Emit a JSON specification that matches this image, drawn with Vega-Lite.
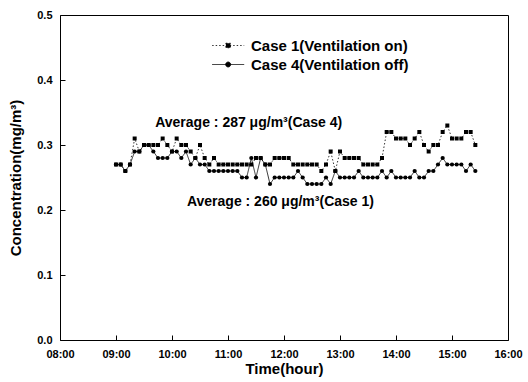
{
  "$schema": "https://vega.github.io/schema/vega-lite/v6.json",
  "width": 448,
  "height": 325,
  "autosize": {"type": "none"},
  "padding": {"left": 60, "top": 15, "right": 20, "bottom": 42},
  "background": "white",
  "config": {
    "view": {"stroke": "black", "strokeWidth": 1},
    "font": "Liberation Sans",
    "axis": {
      "domain": false, "tickColor": "black", "tickOpacity": 1, "labelColor": "black", "titleColor": "black",
      "labelFont": "Liberation Sans", "labelFontWeight": "bold", "labelFontSize": 11,
      "titleFont": "Liberation Sans", "titleFontWeight": "bold", "titleFontSize": 15,
      "grid": false, "tickWidth": 1, "ticks": true, "zindex": 2
    }
  },
  "layer": [
    {
      "data": {
        "format": {"parse": {"t": "date:'%H:%M'"}},
        "values": [
          {"t":"09:00","s":"Case 1","v":0.27},{"t":"09:05","s":"Case 1","v":0.27},{"t":"09:10","s":"Case 1","v":0.26},{"t":"09:15","s":"Case 1","v":0.27},{"t":"09:20","s":"Case 1","v":0.31},{"t":"09:25","s":"Case 1","v":0.29},{"t":"09:30","s":"Case 1","v":0.30},{"t":"09:35","s":"Case 1","v":0.30},{"t":"09:40","s":"Case 1","v":0.30},{"t":"09:45","s":"Case 1","v":0.30},{"t":"09:50","s":"Case 1","v":0.31},{"t":"09:55","s":"Case 1","v":0.30},
          {"t":"10:00","s":"Case 1","v":0.29},{"t":"10:05","s":"Case 1","v":0.31},{"t":"10:10","s":"Case 1","v":0.30},{"t":"10:15","s":"Case 1","v":0.30},{"t":"10:20","s":"Case 1","v":0.29},{"t":"10:25","s":"Case 1","v":0.28},{"t":"10:30","s":"Case 1","v":0.30},{"t":"10:35","s":"Case 1","v":0.28},{"t":"10:40","s":"Case 1","v":0.27},{"t":"10:45","s":"Case 1","v":0.28},{"t":"10:50","s":"Case 1","v":0.27},{"t":"10:55","s":"Case 1","v":0.27},
          {"t":"11:00","s":"Case 1","v":0.27},{"t":"11:05","s":"Case 1","v":0.27},{"t":"11:10","s":"Case 1","v":0.27},{"t":"11:15","s":"Case 1","v":0.27},{"t":"11:20","s":"Case 1","v":0.27},{"t":"11:25","s":"Case 1","v":0.27},{"t":"11:30","s":"Case 1","v":0.28},{"t":"11:35","s":"Case 1","v":0.28},{"t":"11:40","s":"Case 1","v":0.27},{"t":"11:45","s":"Case 1","v":0.27},{"t":"11:50","s":"Case 1","v":0.28},{"t":"11:55","s":"Case 1","v":0.28},
          {"t":"12:00","s":"Case 1","v":0.28},{"t":"12:05","s":"Case 1","v":0.28},{"t":"12:10","s":"Case 1","v":0.27},{"t":"12:15","s":"Case 1","v":0.27},{"t":"12:20","s":"Case 1","v":0.27},{"t":"12:25","s":"Case 1","v":0.27},{"t":"12:30","s":"Case 1","v":0.27},{"t":"12:35","s":"Case 1","v":0.27},{"t":"12:40","s":"Case 1","v":0.26},{"t":"12:45","s":"Case 1","v":0.27},{"t":"12:50","s":"Case 1","v":0.29},{"t":"12:55","s":"Case 1","v":0.26},
          {"t":"13:00","s":"Case 1","v":0.29},{"t":"13:05","s":"Case 1","v":0.28},{"t":"13:10","s":"Case 1","v":0.28},{"t":"13:15","s":"Case 1","v":0.28},{"t":"13:20","s":"Case 1","v":0.28},{"t":"13:25","s":"Case 1","v":0.27},{"t":"13:30","s":"Case 1","v":0.27},{"t":"13:35","s":"Case 1","v":0.27},{"t":"13:40","s":"Case 1","v":0.27},{"t":"13:45","s":"Case 1","v":0.28},{"t":"13:50","s":"Case 1","v":0.32},{"t":"13:55","s":"Case 1","v":0.32},
          {"t":"14:00","s":"Case 1","v":0.31},{"t":"14:05","s":"Case 1","v":0.31},{"t":"14:10","s":"Case 1","v":0.31},{"t":"14:15","s":"Case 1","v":0.30},{"t":"14:20","s":"Case 1","v":0.31},{"t":"14:25","s":"Case 1","v":0.32},{"t":"14:30","s":"Case 1","v":0.30},{"t":"14:35","s":"Case 1","v":0.29},{"t":"14:40","s":"Case 1","v":0.30},{"t":"14:45","s":"Case 1","v":0.30},{"t":"14:50","s":"Case 1","v":0.32},{"t":"14:55","s":"Case 1","v":0.33},
          {"t":"15:00","s":"Case 1","v":0.31},{"t":"15:05","s":"Case 1","v":0.31},{"t":"15:10","s":"Case 1","v":0.31},{"t":"15:15","s":"Case 1","v":0.32},{"t":"15:20","s":"Case 1","v":0.32},{"t":"15:25","s":"Case 1","v":0.30},
          {"t":"09:00","s":"Case 4","v":0.27},{"t":"09:05","s":"Case 4","v":0.27},{"t":"09:10","s":"Case 4","v":0.26},{"t":"09:15","s":"Case 4","v":0.27},{"t":"09:20","s":"Case 4","v":0.29},{"t":"09:25","s":"Case 4","v":0.29},{"t":"09:30","s":"Case 4","v":0.30},{"t":"09:35","s":"Case 4","v":0.30},{"t":"09:40","s":"Case 4","v":0.29},{"t":"09:45","s":"Case 4","v":0.28},{"t":"09:50","s":"Case 4","v":0.28},{"t":"09:55","s":"Case 4","v":0.28},
          {"t":"10:00","s":"Case 4","v":0.29},{"t":"10:05","s":"Case 4","v":0.29},{"t":"10:10","s":"Case 4","v":0.28},{"t":"10:15","s":"Case 4","v":0.29},{"t":"10:20","s":"Case 4","v":0.27},{"t":"10:25","s":"Case 4","v":0.28},{"t":"10:30","s":"Case 4","v":0.27},{"t":"10:35","s":"Case 4","v":0.27},{"t":"10:40","s":"Case 4","v":0.26},{"t":"10:45","s":"Case 4","v":0.26},{"t":"10:50","s":"Case 4","v":0.26},{"t":"10:55","s":"Case 4","v":0.26},
          {"t":"11:00","s":"Case 4","v":0.26},{"t":"11:05","s":"Case 4","v":0.26},{"t":"11:10","s":"Case 4","v":0.26},{"t":"11:15","s":"Case 4","v":0.25},{"t":"11:20","s":"Case 4","v":0.25},{"t":"11:25","s":"Case 4","v":0.28},{"t":"11:30","s":"Case 4","v":0.25},{"t":"11:35","s":"Case 4","v":0.28},{"t":"11:40","s":"Case 4","v":0.27},{"t":"11:45","s":"Case 4","v":0.24},{"t":"11:50","s":"Case 4","v":0.25},{"t":"11:55","s":"Case 4","v":0.25},
          {"t":"12:00","s":"Case 4","v":0.25},{"t":"12:05","s":"Case 4","v":0.25},{"t":"12:10","s":"Case 4","v":0.25},{"t":"12:15","s":"Case 4","v":0.26},{"t":"12:20","s":"Case 4","v":0.25},{"t":"12:25","s":"Case 4","v":0.24},{"t":"12:30","s":"Case 4","v":0.24},{"t":"12:35","s":"Case 4","v":0.24},{"t":"12:40","s":"Case 4","v":0.24},{"t":"12:45","s":"Case 4","v":0.25},{"t":"12:50","s":"Case 4","v":0.24},{"t":"12:55","s":"Case 4","v":0.26},
          {"t":"13:00","s":"Case 4","v":0.25},{"t":"13:05","s":"Case 4","v":0.25},{"t":"13:10","s":"Case 4","v":0.25},{"t":"13:15","s":"Case 4","v":0.25},{"t":"13:20","s":"Case 4","v":0.26},{"t":"13:25","s":"Case 4","v":0.25},{"t":"13:30","s":"Case 4","v":0.25},{"t":"13:35","s":"Case 4","v":0.25},{"t":"13:40","s":"Case 4","v":0.25},{"t":"13:45","s":"Case 4","v":0.26},{"t":"13:50","s":"Case 4","v":0.25},{"t":"13:55","s":"Case 4","v":0.26},
          {"t":"14:00","s":"Case 4","v":0.25},{"t":"14:05","s":"Case 4","v":0.25},{"t":"14:10","s":"Case 4","v":0.25},{"t":"14:15","s":"Case 4","v":0.25},{"t":"14:20","s":"Case 4","v":0.26},{"t":"14:25","s":"Case 4","v":0.25},{"t":"14:30","s":"Case 4","v":0.25},{"t":"14:35","s":"Case 4","v":0.26},{"t":"14:40","s":"Case 4","v":0.26},{"t":"14:45","s":"Case 4","v":0.27},{"t":"14:50","s":"Case 4","v":0.28},{"t":"14:55","s":"Case 4","v":0.27},
          {"t":"15:00","s":"Case 4","v":0.27},{"t":"15:05","s":"Case 4","v":0.27},{"t":"15:10","s":"Case 4","v":0.27},{"t":"15:15","s":"Case 4","v":0.26},{"t":"15:20","s":"Case 4","v":0.27},{"t":"15:25","s":"Case 4","v":0.26}
        ]
      },
      "layer": [
        {
          "mark": {"type": "line", "strokeWidth": 0.8, "color": "black"},
          "encoding": {
            "x": {
              "field": "t", "type": "temporal",
              "scale": {"domain": [{"year": 1900, "month": 1, "date": 1, "hours": 8}, {"year": 1900, "month": 1, "date": 1, "hours": 16}], "nice": false},
              "axis": {
                "title": "Time(hour)",
                "format": "%H:%M",
                "values": [
                  {"year":1900,"month":1,"date":1,"hours":8},{"year":1900,"month":1,"date":1,"hours":8,"minutes":30},
                  {"year":1900,"month":1,"date":1,"hours":9},{"year":1900,"month":1,"date":1,"hours":9,"minutes":30},
                  {"year":1900,"month":1,"date":1,"hours":10},{"year":1900,"month":1,"date":1,"hours":10,"minutes":30},
                  {"year":1900,"month":1,"date":1,"hours":11},{"year":1900,"month":1,"date":1,"hours":11,"minutes":30},
                  {"year":1900,"month":1,"date":1,"hours":12},{"year":1900,"month":1,"date":1,"hours":12,"minutes":30},
                  {"year":1900,"month":1,"date":1,"hours":13},{"year":1900,"month":1,"date":1,"hours":13,"minutes":30},
                  {"year":1900,"month":1,"date":1,"hours":14},{"year":1900,"month":1,"date":1,"hours":14,"minutes":30},
                  {"year":1900,"month":1,"date":1,"hours":15},{"year":1900,"month":1,"date":1,"hours":15,"minutes":30},
                  {"year":1900,"month":1,"date":1,"hours":16}
                ],
                "labelExpr": "minutes(datum.value) == 30 ? '' : timeFormat(datum.value, '%H:%M')",
                "offset": -5,
                "tickSize": 5,
                "labelPadding": 8,
                "labelFlush": false,
                "labelOverlap": false,
                "titlePadding": 2
              }
            },
            "y": {
              "field": "v", "type": "quantitative",
              "scale": {"domain": [0, 0.5], "nice": false, "zero": false},
              "axis": {
                "title": "Concentration(mg/m³)",
                "values": [0, 0.05, 0.1, 0.15, 0.2, 0.25, 0.3, 0.35, 0.4, 0.45, 0.5],
                "labelExpr": "round(datum.value * 100) % 10 != 0 ? '' : format(datum.value, '.1f')",
                "offset": -5,
                "tickSize": 5,
                "labelPadding": 8,
                "labelFlush": false,
                "labelOverlap": false,
                "titlePadding": 13
              }
            },
            "strokeDash": {
              "field": "s", "type": "nominal",
              "scale": {"domain": ["Case 1", "Case 4"], "range": [[1.5, 2], [1, 0]]},
              "legend": {
                "orient": "none",
                "legendX": 150,
                "legendY": 23,
                "title": null,
                "padding": 0,
                "labelExpr": "datum.value == 'Case 1' ? 'Case 1(Ventilation on)' : 'Case 4(Ventilation off)'",
                "labelFont": "Liberation Sans",
                "labelFontSize": 15,
                "labelFontWeight": "bold",
                "labelColor": "black",
                "symbolType": "M-1,0H5M1.57,-0.43H2.43V0.43H1.57Z",
                "symbolSize": 114,
                "symbolStrokeColor": "black",
                "symbolFillColor": "black",
                "symbolStrokeWidth": 0.8,
                "labelOffset": 26,
                "rowPadding": 3,
                "encode": {
                  "symbols": {
                    "update": {
                      "shape": {"signal": "datum.value == 'Case 1' ? 'M-1,0H5M1.57,-0.43H2.43V0.43H1.57Z' : 'M-1,0H5M2.47,0A0.47,0.47 0 1,1 1.53,0A0.47,0.47 0 1,1 2.47,0Z'"},
                      "fill": {"value": "black"},
                      "stroke": {"value": "black"}
                    }
                  }
                }
              }
            }
          }
        },
        {
          "transform": [{"filter": "datum.s == 'Case 1'"}],
          "mark": {"type": "point", "shape": "square", "filled": true, "color": "black", "size": 16, "opacity": 1},
          "encoding": {
            "x": {"field": "t", "type": "temporal"},
            "y": {"field": "v", "type": "quantitative"}
          }
        },
        {
          "transform": [{"filter": "datum.s == 'Case 4'"}],
          "mark": {"type": "point", "shape": "circle", "filled": true, "color": "black", "size": 18, "opacity": 1},
          "encoding": {
            "x": {"field": "t", "type": "temporal"},
            "y": {"field": "v", "type": "quantitative"}
          }
        }
      ]
    },
    {
      "data": {"values": [{"label": "Average : 287 μg/m³(Case 4)"}]},
      "mark": {"type": "text", "align": "left", "baseline": "alphabetic", "fontSize": 14, "fontWeight": "bold", "font": "Liberation Sans", "color": "black"},
      "encoding": {
        "x": {"datum": {"year": 1900, "month": 1, "date": 1, "hours": 9, "minutes": 42}, "type": "temporal"},
        "y": {"datum": 0.327, "type": "quantitative"},
        "text": {"field": "label"}
      }
    },
    {
      "data": {"values": [{"label": "Average : 260 μg/m³(Case 1)"}]},
      "mark": {"type": "text", "align": "left", "baseline": "alphabetic", "fontSize": 14, "fontWeight": "bold", "font": "Liberation Sans", "color": "black"},
      "encoding": {
        "x": {"datum": {"year": 1900, "month": 1, "date": 1, "hours": 10, "minutes": 16}, "type": "temporal"},
        "y": {"datum": 0.206, "type": "quantitative"},
        "text": {"field": "label"}
      }
    }
  ]
}
